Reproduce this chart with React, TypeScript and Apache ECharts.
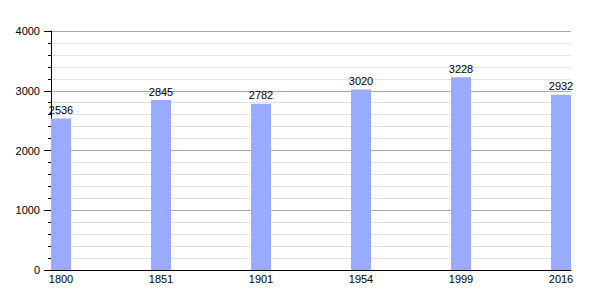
import React, { useEffect, useRef } from "react";
import * as echarts from "echarts";

const years = ["1800", "1851", "1901", "1954", "1999", "2016"];
const population = [2536, 2845, 2782, 3020, 3228, 2932];
const yTicks = [0, 1000, 2000, 3000, 4000];

export default function App() {
  const ref = useRef<HTMLDivElement>(null);
  useEffect(() => {
    if (!ref.current) return;
    const chart = echarts.init(ref.current, undefined, { renderer: "svg" });
    const font = "Liberation Sans, Arial, sans-serif";
    chart.setOption({
      animation: false,
      grid: { left: 51, right: 29, top: 31, bottom: 30, containLabel: false },
      xAxis: {
        type: "value",
        min: -0.1,
        max: 5.1,
        axisLine: { show: true, onZero: false, lineStyle: { color: "#000", width: 1 } },
        axisTick: { show: false },
        splitLine: { show: false },
        axisLabel: {
          customValues: years.map((_, i) => i),
          formatter: (v: number) => years[Math.round(v)] ?? "",
          color: "#000",
          fontSize: 11,
          fontFamily: font,
          margin: 3,
        },
      },
      yAxis: {
        type: "value",
        min: yTicks[0],
        max: yTicks[yTicks.length - 1],
        interval: 1000,
        axisLine: { show: true, onZero: false, lineStyle: { color: "#000", width: 1 } },
        axisTick: { show: true, length: 7, lineStyle: { color: "#000" } },
        minorTick: { show: true, splitNumber: 5, length: 3, lineStyle: { color: "#000" } },
        splitLine: { show: true, lineStyle: { color: "#aaaaaa", width: 1 } },
        minorSplitLine: { show: true, lineStyle: { color: "#e2e2e2", width: 1 } },
        axisLabel: {
          color: "#000",
          fontSize: 11,
          fontFamily: font,
          margin: 11,
          formatter: (v: number) => String(v),
        },
      },
      series: [
        {
          type: "bar",
          data: population.map((v, i) => [i, v]),
          barWidth: 20,
          itemStyle: { color: "#99aaff" },
          label: {
            show: true,
            position: "top",
            distance: 3,
            color: "#000",
            fontSize: 11,
            fontFamily: font,
            formatter: (p: any) => String(p.value[1]),
          },
        },
      ],
    });
    return () => chart.dispose();
  }, []);
  return <div ref={ref} style={{ width: 600, height: 300, position: "absolute", left: 0, top: 0 }} />;
}
